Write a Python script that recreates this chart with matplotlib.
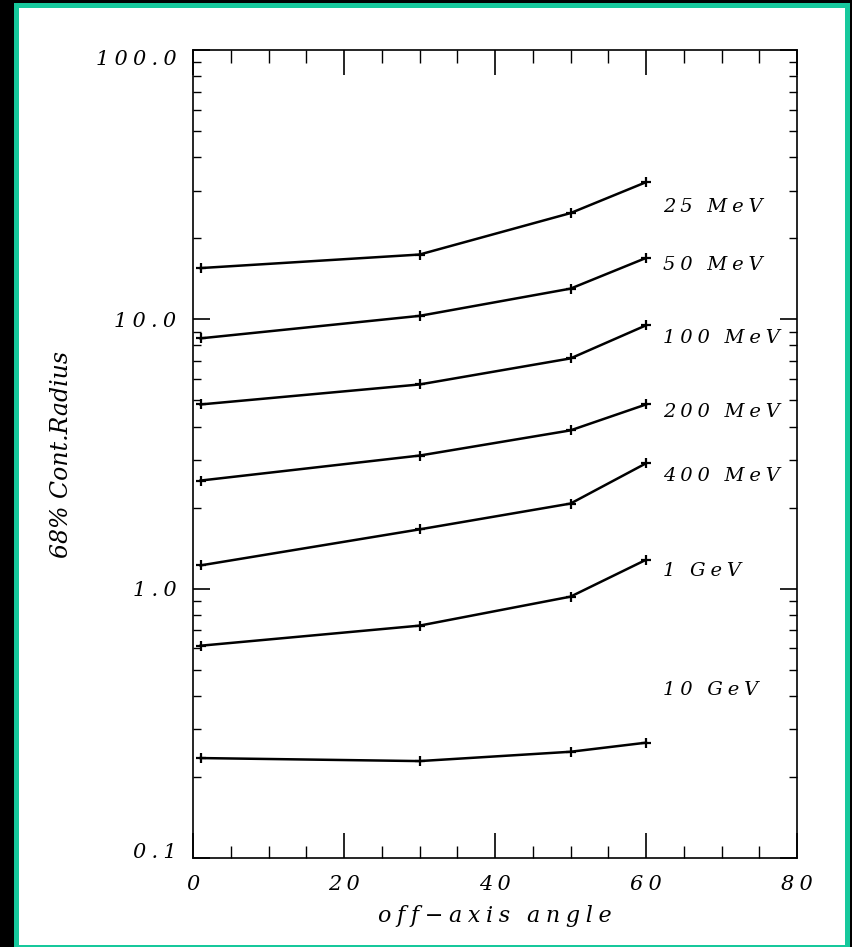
import matplotlib
matplotlib.use("Agg")
import matplotlib.pyplot as plt
from matplotlib.patches import Rectangle
from matplotlib.ticker import FixedLocator, NullFormatter

# off-axis angle (deg) where the PSF was evaluated
angles = [1, 30, 50, 60]

# 68% containment radius (deg) per energy
energies = ["25 MeV", "50 MeV", "100 MeV", "200 MeV", "400 MeV", "1 GeV", "10 GeV"]
r25 = [15.5, 17.4, 24.8, 32.3]
r50 = [8.5, 10.3, 13.0, 16.9]
r100 = [4.83, 5.73, 7.16, 9.5]
r200 = [2.52, 3.12, 3.87, 4.83]
r400 = [1.22, 1.66, 2.07, 2.92]
r1g = [0.614, 0.729, 0.934, 1.28]
r10g = [0.235, 0.229, 0.248, 0.268]
radii = [r25, r50, r100, r200, r400, r1g, r10g]

# label heights next to each curve
label_y = [26.1, 15.9, 8.5, 4.51, 2.63, 1.16, 0.42]

xticks = [0, 20, 40, 60, 80]
yticks = [0.1, 1.0, 10.0, 100.0]
ytick_labels = ["0.1", "1.0", "10.0", "100.0"]

W, H = 852, 947
font = dict(family="DejaVu Serif", style="italic")


def spaced(s, gap="\u2005"):
    # wide letter spacing, like the old vector plot fonts
    words = [gap.join(w) for w in s.split(" ")]
    return (gap * 3).join(words)


fig = plt.figure(figsize=(W / 100, H / 100), dpi=100, facecolor="black")

# teal frame with white panel
fig.patches.append(Rectangle((14 / W, 0), (850 - 14) / W, (H - 3) / H,
                             transform=fig.transFigure, facecolor="#16c89c",
                             edgecolor="none", zorder=-2))
fig.patches.append(Rectangle((19 / W, 2 / H), (845 - 19) / W, (H - 8 - 2) / H,
                             transform=fig.transFigure, facecolor="white",
                             edgecolor="none", zorder=-1))

ax = fig.add_axes([193 / W, (H - 858) / H, (797 - 193) / W, (858 - 50) / H])
ax.set_facecolor("white")

for r, name, ly in zip(radii, energies, label_y):
    ax.plot(angles, r, color="black", lw=1.8, marker="+", ms=7, mew=1.6)
    ax.text(62.3, ly, spaced(name), fontsize=14, va="center", ha="left", **font)

ax.set_yscale("log")
ax.set_xlim(0, 80)
ax.set_ylim(0.1, 100)

ax.set_xticks(xticks)
ax.set_xticklabels([spaced(str(t)) for t in xticks], fontsize=15, **font)
ax.xaxis.set_minor_locator(FixedLocator(range(0, 81, 5)))
ax.set_yticks(yticks)
ax.set_yticklabels([spaced(t) for t in ytick_labels], fontsize=15, **font)
minors = [m * 10.0 ** e for e in range(-1, 2) for m in range(2, 10)]
ax.yaxis.set_minor_locator(FixedLocator(minors))
ax.yaxis.set_minor_formatter(NullFormatter())

# end labels sit inside the axis range
ylabs = ax.get_yticklabels()
ylabs[0].set_va("baseline")
ylabs[-1].set_va("top")

ax.tick_params(axis="x", which="major", direction="in", length=18, width=1.2,
               top=True, pad=12)
ax.tick_params(axis="x", which="minor", direction="in", length=9, width=1.0,
               top=True)
ax.tick_params(axis="y", which="major", direction="in", length=12, width=1.2,
               right=True, pad=12)
ax.tick_params(axis="y", which="minor", direction="in", length=6, width=1.0,
               right=True)
for s in ax.spines.values():
    s.set_linewidth(1.2)

ax.set_xlabel(spaced("off\u2212axis angle"), fontsize=16, labelpad=8, **font)
ax.set_ylabel("68% Cont.Radius", fontsize=17, labelpad=16, **font)

fig.savefig("out.png", dpi=100, facecolor="black")
